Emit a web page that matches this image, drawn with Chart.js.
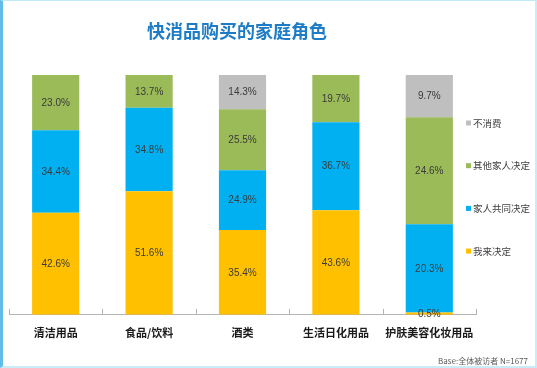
<!DOCTYPE html>
<html><head><meta charset="utf-8">
<script src="https://cdn.jsdelivr.net/npm/chart.js@4/dist/chart.umd.min.js"></script>
<style>
html,body{margin:0;padding:0;background:#fff;}
#wrap{position:relative;width:537px;height:368px;overflow:hidden;background:#fff;}
#c{position:absolute;left:0;top:0;}
#frame{position:absolute;left:0;top:0;width:537px;height:368px;box-sizing:border-box;border-top:1px solid #bfeaf6;border-right:2px solid #c8edf8;border-bottom:2px solid #c8edf8;border-left:3px solid #62bce6;pointer-events:none;}
</style></head>
<body><div id="wrap"><canvas id="c" width="537" height="368"></canvas><div id="frame"></div></div>
<script>
const categories = ['清洁用品', '食品/饮料', '酒类', '生活日化用品', '护肤美容化妆用品'];
const seriesNames = ['我来决定', '家人共同决定', '其他家人决定', '不消费'];
const meDecides = [42.6, 51.6, 35.4, 43.6, 0.5];
const familyTogether = [34.4, 34.8, 24.9, 36.7, 20.3];
const otherMember = [23.0, 13.7, 25.5, 19.7, 24.6];
const noPurchase = [null, null, 14.3, null, 9.7];
const seriesColors = ['#FFC000', '#00B0F0', '#9BBB59', '#BFBFBF'];
const titleText = '快消品购买的家庭角色';
const noteText = 'Base:全体被访者 N=1677';

const rawSeries = [meDecides, familyTogether, otherMember, noPurchase];
// 100% stacked: each bar's segments shown as share of the bar total
const totals = categories.map((_, i) => rawSeries.reduce((s, arr) => s + (arr[i] || 0), 0));
const datasets = rawSeries.map((arr, k) => ({
  label: seriesNames[k],
  raw: arr,
  data: arr.map((v, i) => v == null ? null : v / totals[i] * 100),
  backgroundColor: seriesColors[k],
  borderWidth: 0,
  barPercentage: 1,
  categoryPercentage: 0.505
}));

const extras = {
  id: 'extras',
  afterDatasetsDraw(chart) {
    const ctx = chart.ctx;
    const xs = chart.scales.x;
    const area = chart.chartArea;
    ctx.save();
    // inside tick marks at category boundaries
    ctx.strokeStyle = '#b4b4b4';
    ctx.lineWidth = 1;
    const step = xs.getPixelForValue(1) - xs.getPixelForValue(0);
    for (let i = 0; i <= categories.length; i++) {
      const px = Math.round(xs.getPixelForValue(i) - step / 2) + 0.5;
      ctx.beginPath();
      ctx.moveTo(px, area.bottom);
      ctx.lineTo(px, area.bottom - 6);
      ctx.stroke();
    }
    // data labels
    ctx.font = '10px "Liberation Sans", Arial, sans-serif';
    ctx.fillStyle = '#3a3a3a';
    ctx.textAlign = 'center';
    ctx.textBaseline = 'middle';
    chart.data.datasets.forEach((ds, di) => {
      const meta = chart.getDatasetMeta(di);
      meta.data.forEach((el, i) => {
        const v = ds.raw[i];
        if (v == null) return;
        const p = el.getProps(['x', 'y', 'base'], true);
        ctx.fillText(v.toFixed(1) + '%', p.x, (p.y + p.base) / 2 + 0.5);
      });
    });
    // legend (reversed order)
    ctx.font = '9.5px "Noto Sans CJK SC", sans-serif';
    ctx.textAlign = 'left';
    const n = chart.data.datasets.length;
    for (let j = 0; j < n; j++) {
      const ds = chart.data.datasets[n - 1 - j];
      const cy = 123 + j * 42.7;
      ctx.fillStyle = ds.backgroundColor;
      ctx.fillRect(466, cy - 2.5, 5, 5);
      ctx.fillStyle = '#404040';
      ctx.fillText(ds.label, 473, cy);
    }
    // title
    ctx.font = 'bold 18px "Noto Sans CJK SC", sans-serif';
    ctx.fillStyle = '#1E7CC6';
    ctx.textAlign = 'center';
    ctx.fillText(titleText, 237, 31);
    // footnote
    ctx.font = '8px "Noto Sans CJK SC", sans-serif';
    ctx.fillStyle = '#595959';
    ctx.textAlign = 'right';
    ctx.fillText(noteText, 528, 361);
    ctx.restore();
  }
};

new Chart(document.getElementById('c'), {
  type: 'bar',
  data: { labels: categories, datasets },
  options: {
    responsive: false,
    animation: false,
    layout: { padding: { top: 75, left: 9, right: 61, bottom: 18 } },
    plugins: { legend: { display: false }, title: { display: false }, tooltip: { enabled: false } },
    scales: {
      x: {
        stacked: true,
        grid: { display: true, drawOnChartArea: false, drawTicks: false, color: 'transparent' },
        border: { display: true, color: '#b4b4b4', width: 1 },
        ticks: { color: '#1a1a1a', padding: 11, maxRotation: 0, autoSkip: false,
                 font: { family: '"Noto Sans CJK SC", sans-serif', size: 11, weight: 'bold' } }
      },
      y: { stacked: true, display: false, min: 0, max: 100 }
    }
  },
  plugins: [extras]
});
</script>
</body></html>
